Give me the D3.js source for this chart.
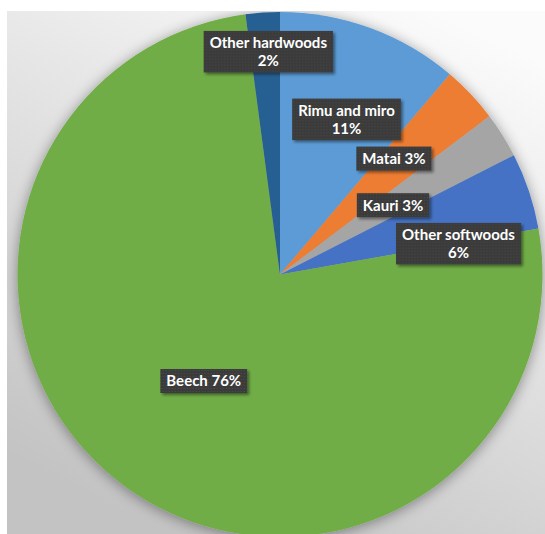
<!DOCTYPE html>
<html>
<head>
<meta charset="utf-8">
<script src="https://cdn.jsdelivr.net/npm/d3@7"></script>
<style>
  html, body { margin: 0; padding: 0; background: #ffffff; }
  svg { display: block; }
</style>
</head>
<body>
<script>
// ---- data ----
const categories = ["Rimu and miro", "Matai", "Kauri", "Other softwoods", "Beech", "Other hardwoods"];
const shares = [11.2, 3.5, 2.8, 4.7, 75.7, 2.1];           // slice sizes (percent of circle)
const shareLabels = ["11%", "3%", "3%", "6%", "76%", "2%"]; // labels printed on the chart
const colors = ["#5B9BD5", "#ED7D31", "#A5A5A5", "#4472C4", "#70AD47", "#255E91"];
const labelTwoLines = [true, false, false, true, false, true];
// label anchor: [angle in degrees clockwise from 12 o'clock, fraction of radius]
const labelAnchors = [[23.2, 0.643], [44.5, 0.619], [58.5, 0.505], [80.2, 0.69], [215.6, 0.499], [-3.0, 0.85]];

const W = 545, H = 534;
const panel = { x: 7, y: 11, w: 538, h: 523 };
const cx = 280, cy = 274.5, R = 262.5;

const svg = d3.select("body").append("svg").attr("width", W).attr("height", H);
const defs = svg.append("defs");

// background gradient
const grad = defs.append("linearGradient").attr("id", "bg")
  .attr("x1", 0.8).attr("y1", 0).attr("x2", 0.3).attr("y2", 1);
grad.append("stop").attr("offset", 0).attr("stop-color", "#fbfbfb");
grad.append("stop").attr("offset", 1).attr("stop-color", "#c3c3c3");

// pie shadow
const fs = defs.append("filter").attr("id", "pieShadow")
  .attr("x", "-20%").attr("y", "-20%").attr("width", "140%").attr("height", "140%");
fs.append("feGaussianBlur").attr("in", "SourceAlpha").attr("stdDeviation", 7).attr("result", "b");
fs.append("feOffset").attr("in", "b").attr("dx", 0).attr("dy", 2).attr("result", "o");
fs.append("feComponentTransfer").attr("in", "o").attr("result", "s")
  .append("feFuncA").attr("type", "linear").attr("slope", 0.4);
const fm = fs.append("feMerge");
fm.append("feMergeNode").attr("in", "s");
fm.append("feMergeNode").attr("in", "SourceGraphic");

// label box shadow
const ls = defs.append("filter").attr("id", "boxShadow")
  .attr("x", "-20%").attr("y", "-30%").attr("width", "140%").attr("height", "160%");
ls.append("feGaussianBlur").attr("in", "SourceAlpha").attr("stdDeviation", 1.5).attr("result", "b");
ls.append("feOffset").attr("in", "b").attr("dx", 2).attr("dy", 2).attr("result", "o");
ls.append("feComponentTransfer").attr("in", "o").attr("result", "s")
  .append("feFuncA").attr("type", "linear").attr("slope", 0.45);
const lm = ls.append("feMerge");
lm.append("feMergeNode").attr("in", "s");
lm.append("feMergeNode").attr("in", "SourceGraphic");

// textured dark fill
const pat = defs.append("pattern").attr("id", "tex").attr("patternUnits", "userSpaceOnUse")
  .attr("width", 3).attr("height", 3);
pat.append("rect").attr("width", 3).attr("height", 3).attr("fill", "#3b3b3b");
pat.append("rect").attr("x", 1).attr("y", 1).attr("width", 1).attr("height", 1).attr("fill", "#4a4a4a");

const clip = defs.append("clipPath").attr("id", "panelClip");
clip.append("rect").attr("x", panel.x).attr("y", panel.y).attr("width", panel.w).attr("height", panel.h);

svg.append("rect").attr("x", panel.x).attr("y", panel.y).attr("width", panel.w).attr("height", panel.h)
  .attr("fill", "url(#bg)");

const data = categories.map((c, i) => ({ name: c, value: shares[i], label: shareLabels[i], color: colors[i], two: labelTwoLines[i], anchor: labelAnchors[i] }));

const pie = d3.pie().sort(null).value(d => d.value).startAngle(0).endAngle(2 * Math.PI);
const arc = d3.arc().innerRadius(0).outerRadius(R);
const arcs = pie(data);

const root = svg.append("g").attr("clip-path", "url(#panelClip)");
const g = root.append("g").attr("transform", `translate(${cx},${cy})`);
g.append("g").attr("filter", "url(#pieShadow)")
  .selectAll("path").data(arcs).join("path")
  .attr("d", arc).attr("fill", d => d.data.color);

// labels
const fontSize = 15, lineH = 17.5, padX = 6, padY = 6.5;
const lg = g.append("g");
arcs.forEach(a => {
  const d = a.data;
  const ang = d.anchor[0] * Math.PI / 180;
  const rr = d.anchor[1] * R;
  const x = rr * Math.sin(ang), y = -rr * Math.cos(ang);
  const lines = d.two ? [d.name, d.label] : [d.name + " " + d.label];
  const grp = lg.append("g").attr("transform", `translate(${x},${y})`);
  const box = grp.append("rect").attr("fill", "url(#tex)").attr("filter", "url(#boxShadow)");
  const t = grp.append("text")
    .attr("font-family", "Lato, 'Open Sans', sans-serif")
    .attr("font-weight", "bold").attr("font-size", fontSize)
    .attr("fill", "#ffffff").attr("text-anchor", "middle");
  const n = lines.length;
  lines.forEach((ln, i) => {
    t.append("tspan").attr("x", 0)
      .attr("y", (i - (n - 1) / 2) * lineH)
      .attr("dy", "0.36em").text(ln);
  });
  let maxW = 0;
  t.selectAll("tspan").each(function () { maxW = Math.max(maxW, this.getComputedTextLength()); });
  const bw = maxW + 2 * padX;
  const bh = (n - 1) * lineH + 11 + 2 * padY;
  box.attr("x", -bw / 2).attr("y", -bh / 2).attr("width", bw).attr("height", bh);
});
</script>
</body>
</html>
